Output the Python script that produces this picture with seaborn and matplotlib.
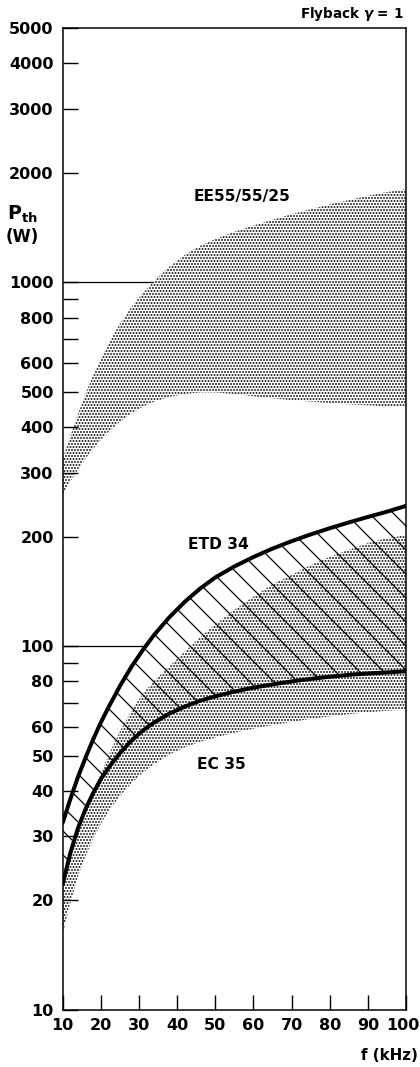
import numpy as np
import matplotlib
matplotlib.use("Agg")
import matplotlib.pyplot as plt
import matplotlib.transforms as mtransforms
import seaborn as sns
from matplotlib.ticker import FixedLocator, NullFormatter, FixedFormatter

# ---------------- data ----------------
freq = [10, 12, 14, 16, 18, 20, 22, 25, 28, 31, 34, 38, 42, 46, 50,
        55, 60, 65, 70, 75, 80, 85, 90, 95, 100]

ee_upper = [327, 378, 434, 494, 556, 618, 679, 769, 855, 935, 1009, 1104,
            1189, 1259, 1315, 1377, 1432, 1486, 1538, 1589, 1637, 1683,
            1730, 1770, 1803]
ee_lower = [260, 283, 306, 328, 349, 369, 388, 414, 437, 455, 470, 484,
            493, 498, 498, 493, 486, 480, 474, 470, 466, 462, 459, 456, 454]

etd_upper = [32.7, 38.0, 43.7, 49.4, 55.5, 61.7, 67.9, 77.7, 87.7, 97.6,
             107.5, 120.2, 132.4, 143.9, 154.5, 165.6, 175.8, 185.4, 194.3,
             202.8, 210.9, 218.8, 226.5, 234.2, 243]
etd_lower = [22.2, 27.0, 31.6, 35.7, 39.5, 43.1, 46.3, 50.8, 55.0, 58.6,
             61.7, 65.3, 68.2, 70.8, 72.8, 75.0, 76.9, 78.5, 80.0, 81.3,
             82.4, 83.4, 84.1, 84.7, 85.3]

ec_upper = [21.4, 26.0, 30.5, 35.1, 39.8, 44.9, 50.1, 58.3, 66.4, 74.1,
            80.4, 88.1, 96.6, 105.7, 114.8, 125.9, 136.8, 148, 157, 167,
            176, 184, 192, 198, 202]
ec_lower = [16.2, 19.7, 23.3, 26.6, 29.6, 32.5, 35.2, 38.7, 42.0, 44.9,
            47.4, 50.4, 52.7, 54.6, 56.1, 57.8, 59.3, 60.7, 61.9, 63.1,
            64.1, 65.0, 65.8, 66.4, 67.0]

x_ticks = [10, 20, 30, 40, 50, 60, 70, 80, 90, 100]
y_ticks = [10, 20, 30, 40, 50, 60, 80, 100, 200, 300, 400, 500, 600, 800,
           1000, 2000, 3000, 4000, 5000]
y_minor = [70, 90, 700, 900]
grid_levels = [100, 1000]

# ---------------- style ----------------
sns.set_theme(style="ticks")
plt.rcParams["font.family"] = ["DejaVu Sans"]
plt.rcParams["font.weight"] = "bold"
plt.rcParams["mathtext.fontset"] = "dejavusans"
plt.rcParams["text.color"] = "black"
plt.rcParams["axes.labelcolor"] = "black"
plt.rcParams["axes.edgecolor"] = "black"
plt.rcParams["xtick.color"] = "black"
plt.rcParams["ytick.color"] = "black"
plt.rcParams["hatch.linewidth"] = 1.25
plt.rcParams["hatch.color"] = "black"

W, H = 420, 1067
fig = plt.figure(figsize=(W / 72, H / 72), dpi=72)
fig.patch.set_facecolor("white")
ax = fig.add_axes([62.7 / W, 57 / H, (406 - 62.7) / W, (1010 - 28) / H])
ax.set_facecolor("white")

f = np.array(freq, dtype=float)

# EE55/55/25 stippled band
ax.fill_between(f, ee_lower, ee_upper, facecolor="none", edgecolor="black",
                linewidth=0, hatch="....", zorder=1)
# EC 35 stippled band
ax.fill_between(f, ec_lower, ec_upper, facecolor="none", edgecolor="black",
                linewidth=0, hatch="....", zorder=1)
# ETD 34 hatched band
ax.fill_between(f, etd_lower, etd_upper, facecolor="none", edgecolor="black",
                linewidth=0, hatch="\\", zorder=2)
# ETD 34 thick boundary curves
sns.lineplot(x=f, y=etd_upper, color="black", linewidth=4, ax=ax, zorder=4)
sns.lineplot(x=f, y=etd_lower, color="black", linewidth=4, ax=ax, zorder=4)

# horizontal reference lines, stopping where they meet the shaded regions
x1000 = np.interp(np.log(1000), np.log(ee_upper), f)
x100 = np.interp(np.log(100), np.log(etd_upper), f)
ax.hlines(grid_levels[1], 10, x1000, color="black", linewidth=1.3, zorder=3)
ax.hlines(grid_levels[0], 10, x100, color="black", linewidth=1.3, zorder=3)

ax.set_yscale("log")
ax.set_xlim(10, 100)
ax.set_ylim(10, 5000)
ax.xaxis.set_major_locator(FixedLocator(x_ticks))
ax.xaxis.set_major_formatter(FixedFormatter([str(v) for v in x_ticks]))
ax.xaxis.set_minor_locator(FixedLocator([]))
ax.yaxis.set_major_locator(FixedLocator(y_ticks))
ax.yaxis.set_major_formatter(FixedFormatter([str(v) for v in y_ticks]))
ax.yaxis.set_minor_locator(FixedLocator(y_minor))
ax.yaxis.set_minor_formatter(NullFormatter())

ax.tick_params(axis="both", which="both", direction="in", length=15,
               width=1.4, color="black", labelsize=16, labelcolor="black")
ax.tick_params(axis="y", which="both", pad=9)
ax.tick_params(axis="x", which="both", pad=8)
for lab in ax.get_xticklabels() + ax.get_yticklabels():
    lab.set_fontweight("bold")

# keep the last x label ("100") inside the image
last_tick = ax.xaxis.get_major_ticks()[-1]
last_tick.label1.set_transform(
    last_tick.label1.get_transform()
    + mtransforms.ScaledTranslation(-3 / 72, 0, fig.dpi_scale_trans))

for s in ax.spines.values():
    s.set_visible(True)
    s.set_linewidth(1.5)
    s.set_color("black")

ax.set_xlabel("")
ax.set_ylabel("")

# ---------------- texts ----------------
ax.text(44.2, 1718, "EE55/55/25", ha="left", va="center", fontsize=15.5,
        fontweight="bold", zorder=5)
ax.text(42.9, 190, "ETD 34", ha="left", va="center", fontsize=15.5,
        fontweight="bold", zorder=5)
ax.text(45.2, 47.4, "EC 35", ha="left", va="center", fontsize=15.5,
        fontweight="bold", zorder=5)

fig.text(404 / W, 1 - 14 / H, r"Flyback $\gamma$ = 1", ha="right",
         va="center", fontsize=13.5, fontweight="bold")
fig.text(22 / W, 1 - 214 / H, r"$\mathbf{P}_{\mathbf{th}}$", ha="center",
         va="center", fontsize=19)
fig.text(22 / W, 1 - 237 / H, "(W)", ha="center", va="center", fontsize=16.5,
         fontweight="bold")
fig.text(361 / W, 1 - 1056 / H, "f (kHz)", ha="left", va="center",
         fontsize=15, fontweight="bold")

fig.savefig("out.png", dpi=72, facecolor="white")
